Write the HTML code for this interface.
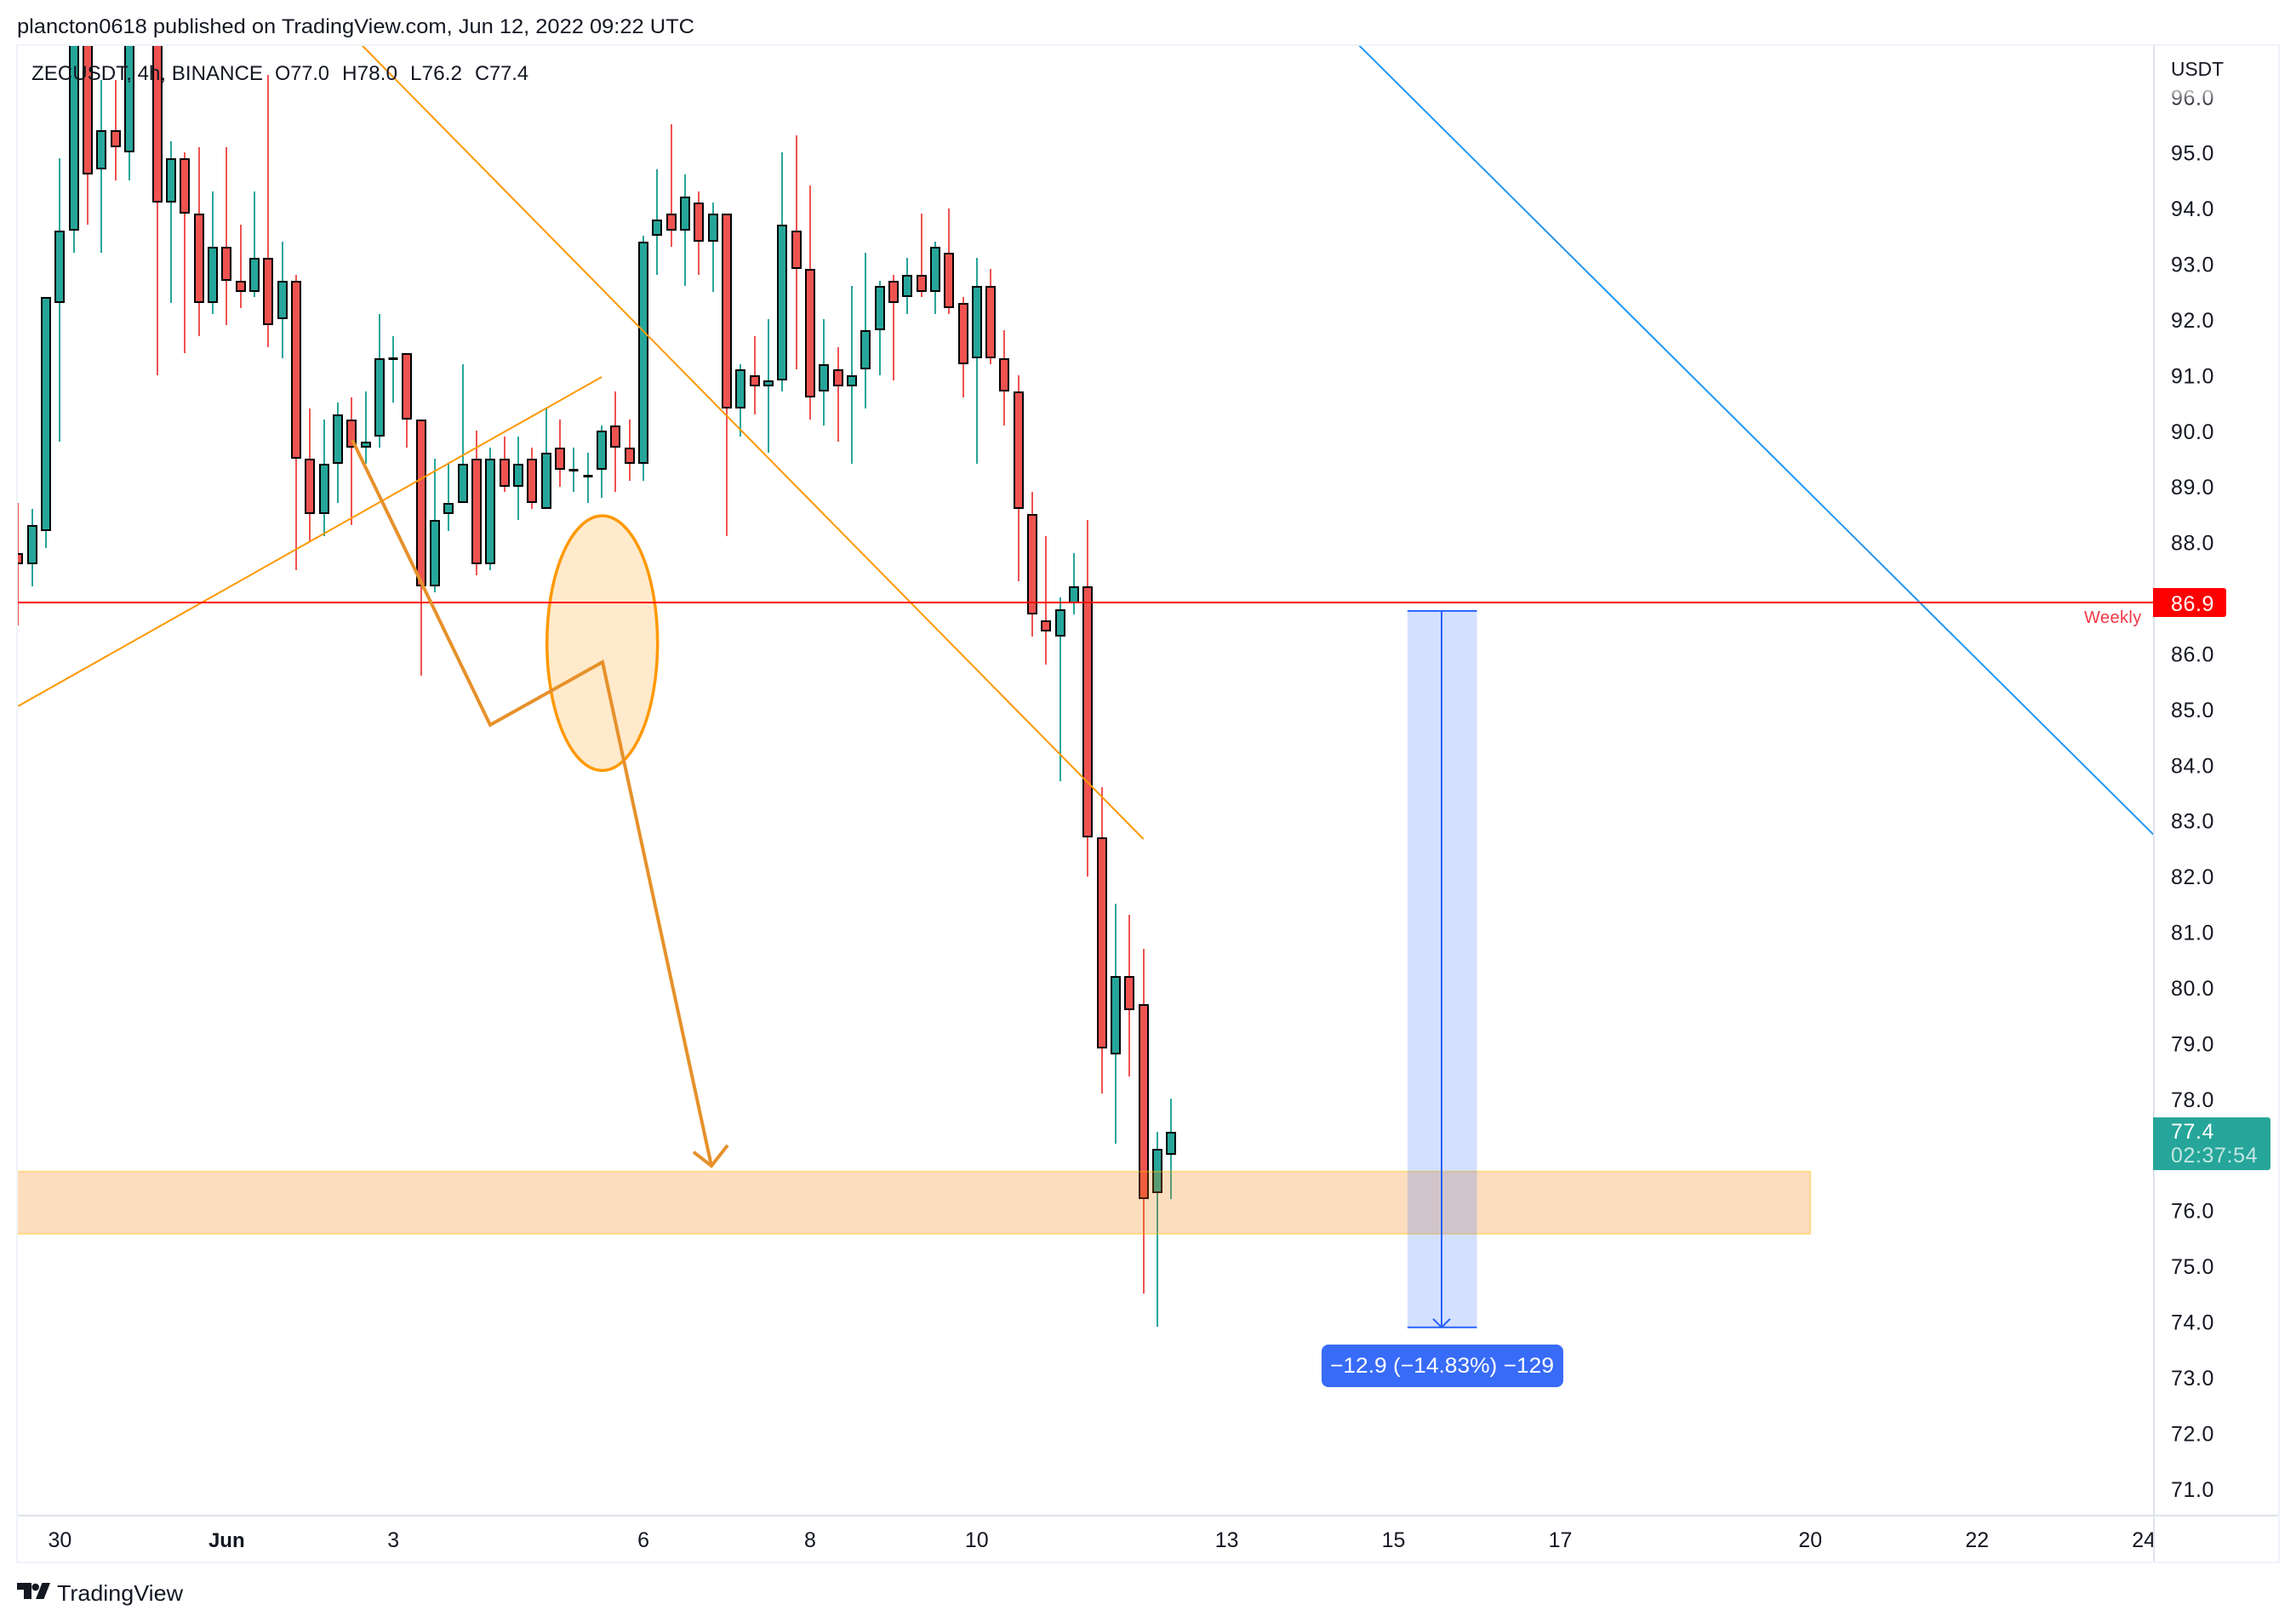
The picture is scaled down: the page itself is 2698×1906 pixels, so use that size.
<!DOCTYPE html>
<html lang="en">
<head>
<meta charset="utf-8">
<title>ZECUSDT 4h chart</title>
<style>
html,body{margin:0;padding:0;background:#fff;width:2698px;height:1906px;overflow:hidden}
svg{display:block;font-family:"Liberation Sans",sans-serif}
</style>
</head>
<body>
<svg id="chart" xmlns="http://www.w3.org/2000/svg" width="2698" height="1906" viewBox="0 0 2698 1906">
  <defs>
    <clipPath id="pane-clip"><rect x="21" y="54" width="2509" height="1726"/></clipPath>
    <clipPath id="time-clip"><rect x="21" y="1782" width="2509" height="53"/></clipPath>
    <linearGradient id="fade-tick" gradientUnits="userSpaceOnUse" x1="0" y1="104" x2="0" y2="124">
      <stop offset="0" stop-color="#131722" stop-opacity="0.25"/>
      <stop offset="1" stop-color="#131722" stop-opacity="0.95"/>
    </linearGradient>
  </defs>
  <rect x="0" y="0" width="2698" height="1906" fill="#ffffff"/>
  <text x="20" y="39" font-size="24" fill="#131722" textLength="796" lengthAdjust="spacingAndGlyphs">plancton0618 published on TradingView.com, Jun 12, 2022 09:22 UTC</text>

  <g id="pane" clip-path="url(#pane-clip)"></g>
  <g id="price-axis"></g>
  <g id="time-axis" clip-path="url(#time-clip)"></g>

  <g>
    <line x1="19" y1="53" x2="2679" y2="53" stroke="#f0f3fa" stroke-width="2"/>
    <line x1="19" y1="1836" x2="2679" y2="1836" stroke="#f0f3fa" stroke-width="2"/>
    <line x1="20" y1="53" x2="20" y2="1836" stroke="#f0f3fa" stroke-width="2"/>
    <line x1="2678" y1="53" x2="2678" y2="1836" stroke="#f0f3fa" stroke-width="2"/>
    <line x1="2531" y1="54" x2="2531" y2="1835" stroke="#e0e3eb" stroke-width="2"/>
    <line x1="21" y1="1781" x2="2677" y2="1781" stroke="#e0e3eb" stroke-width="2"/>
  </g>

  <g id="labels"></g>

  <g font-size="24" fill="#131722">
    <text x="37" y="94" textLength="272" lengthAdjust="spacingAndGlyphs">ZECUSDT, 4h, BINANCE</text>
    <text x="323" y="94" textLength="64" lengthAdjust="spacingAndGlyphs">O77.0</text>
    <text x="402" y="94" textLength="65" lengthAdjust="spacingAndGlyphs">H78.0</text>
    <text x="482" y="94" textLength="61" lengthAdjust="spacingAndGlyphs">L76.2</text>
    <text x="558" y="94" textLength="63" lengthAdjust="spacingAndGlyphs">C77.4</text>
  </g>

  <text x="2551" y="89" font-size="23" fill="#131722" textLength="62" lengthAdjust="spacingAndGlyphs">USDT</text>

  <g fill="#131722">
    <path d="M20 1860H37V1879H28V1868H20Z"/>
    <circle cx="41.7" cy="1865" r="4.3"/>
    <path d="M59 1860L51.5 1879H42L49.5 1860Z"/>
    <text x="67" y="1881" font-size="26" textLength="148" lengthAdjust="spacingAndGlyphs">TradingView</text>
  </g>
</svg>
<script>
// Candle data (4h bars, oldest first). Bars 4,5,8,9,10 run above the visible range: their off-screen ends are estimates.
const opens = [87.8,87.6,88.2,92.3,93.6,98,94.7,95.4,95.0,100,98,94.1,94.9,93.9,92.3,93.3,92.7,92.5,93.1,92.0,92.7,89.5,88.5,89.4,90.2,89.7,89.9,91.3,91.4,90.2,87.2,88.5,88.7,89.5,87.6,89.5,89.0,89.5,88.6,89.7,89.3,89.2,89.3,90.1,89.7,89.4,93.5,93.9,93.6,94.1,93.4,93.9,90.4,91.0,90.8,90.9,93.6,92.9,90.7,91.1,90.8,91.1,91.8,92.7,92.4,92.8,92.5,93.2,92.3,91.3,92.6,91.3,90.7,88.5,86.6,86.3,86.9,87.2,82.7,78.8,80.2,79.7,76.3,77.0];
const highs = [88.7,88.6,92.4,94.9,98.5,98.5,96.3,96.3,98.5,100.5,99,95.2,95.0,95.1,94.3,95.1,93.7,94.3,96.4,93.4,92.8,90.4,90.2,90.5,90.6,90.7,92.1,91.7,91.4,90.2,89.5,89.4,91.2,90.0,89.7,89.9,89.9,89.7,90.4,90.2,89.7,89.6,90.1,90.7,90.2,93.5,94.7,95.5,94.6,94.3,94.1,93.9,91.2,91.7,92.0,95.0,95.3,94.4,92.0,91.5,92.6,93.2,92.7,92.8,93.1,93.9,93.4,94.0,92.4,93.1,92.9,91.8,91.0,88.9,88.1,87.0,87.8,88.4,83.6,81.5,81.3,80.7,77.4,78.0];
const lows = [86.5,87.2,87.9,89.8,93.2,93.7,93.2,94.5,94.5,98,91.0,92.3,91.4,91.7,92.1,91.9,92.2,92.4,91.5,91.3,87.5,88.0,88.1,88.7,88.3,89.4,89.7,90.5,89.7,85.6,87.1,88.2,88.7,87.4,87.5,88.9,88.4,88.6,88.6,89.0,88.9,88.7,88.8,88.9,89.1,89.1,92.8,93.3,92.6,92.8,92.5,88.1,89.9,90.3,89.6,90.7,91.1,90.2,90.1,89.8,89.4,90.4,91.0,90.9,92.1,92.4,92.1,92.1,90.6,89.4,91.2,90.1,87.3,86.3,85.8,83.7,86.7,82.0,78.1,77.2,78.4,74.5,73.9,76.2];
const closes = [87.6,88.3,92.4,93.6,98,94.6,95.4,95.1,98,99,94.1,94.9,93.9,92.3,93.3,92.7,92.5,93.1,91.9,92.7,89.5,88.5,89.4,90.3,89.7,89.8,91.3,91.3,90.2,87.2,88.4,88.7,89.4,87.6,89.5,89.0,89.4,88.7,89.6,89.3,89.3,89.2,90.0,89.7,89.4,93.4,93.8,93.6,94.2,93.4,93.9,90.4,91.1,90.8,90.9,93.7,92.9,90.6,91.2,90.8,91.0,91.8,92.6,92.3,92.8,92.5,93.3,92.2,91.2,92.6,91.3,90.7,88.6,86.7,86.4,86.8,87.2,82.7,78.9,80.2,79.6,76.2,77.1,77.4];

// Axis ticks
const priceTicks = [96,95,94,93,92,91,90,89,88,87,86,85,84,83,82,81,80,79,78,77,76,75,74,73,72,71];
const hiddenPriceTicks = [87,77];
const timeTickLabels = ['30','Jun','3','6','8','10','13','15','17','20','22','24'];
const timeTickBars = [3,15,27,45,57,69,87,99,111,129,141,153];

// Drawing anchors in chart units (bar number, price)
const weeklyLevel = [86.9];
const risingTrendBars = [0,42];
const risingTrendPrices = [85.04,90.95];
const fallingTrendBars = [24.78,81];
const fallingTrendPrices = [96.9,82.65];
const blueTrendBars = [96.5,153.7];
const blueTrendPrices = [96.91,82.73];
const zoneBars = [-2,129];
const zonePrices = [76.68,75.56];
const measureBars = [100,105];
const measurePrices = [86.75,73.88];
const ellipseBars = [42.04,3.98];
const ellipsePrices = [86.17,2.287];
const pathBars = [24.05,33.97,42.06,49.9];
const pathPrices = [89.82,84.7,85.83,76.78];
const arrowHeadBars = [48.61,49.9,51.06];
const arrowHeadPrices = [77.03,76.78,77.15];

// Axis functions
function xScale(bar){ return 21.4 + 16.325 * bar; }
function yScale(price){ return 708 + (86.9 - price) * 65.42; }

const NS = 'http://www.w3.org/2000/svg';
const pane = document.getElementById('pane');
const priceAxis = document.getElementById('price-axis');
const timeAxis = document.getElementById('time-axis');
const labels = document.getElementById('labels');
function mk(tag, parent, props){
  const el = document.createElementNS(NS, tag);
  for (const k in props) el.setAttribute(k, props[k]);
  parent.appendChild(el);
  return el;
}
function poly(bars, prices){
  return bars.map(function(b, i){ return xScale(b).toFixed(1) + ',' + yScale(prices[i]).toFixed(1); }).join(' ');
}

// Candles
const GREEN = '#26a69a', RED = '#ef5350';
closes.forEach(function(close, i){
  const open = opens[i], high = highs[i], low = lows[i];
  const up = close >= open;
  const color = up ? GREEN : RED;
  const cx = Math.round(xScale(i));
  const g = mk('g', pane, {});
  
  
  const hy = Math.round(yScale(high)) + 1, ly = Math.round(yScale(low)) + 1;
  const wick = mk('rect', g, {x: cx - 1, y: hy, width: 2, height: Math.max(1, ly - hy), fill: color});
  
  
  const top = Math.round(yScale(Math.max(open, close))) + 1;
  const bot = Math.round(yScale(Math.min(open, close))) + 1;
  const h = bot - top;
  let body;
  if (h < 3) {
    body = mk('rect', g, {x: cx - 5.5, y: top - 1, width: 11, height: 3, fill: '#000'});
  } else {
    body = mk('rect', g, {x: cx - 5, y: top + 1, width: 10, height: h - 2, fill: color, stroke: '#000', 'stroke-width': 2});
  }
  
  
});

// Ellipse highlight
const ellipse = mk('ellipse', pane, {
  cx: xScale(ellipseBars[0]), cy: yScale(ellipsePrices[0]),
  rx: ellipseBars[1] * 16.325, ry: ellipsePrices[1] * 65.42,
  fill: 'rgba(255,152,0,0.2)', stroke: '#ff9800', 'stroke-width': 3.5
});



// Support zone
const zone = mk('rect', pane, {
  x: xScale(zoneBars[0]), y: yScale(zonePrices[0]),
  width: xScale(zoneBars[1]) - xScale(zoneBars[0]),
  height: yScale(zonePrices[1]) - yScale(zonePrices[0]),
  fill: 'rgba(245,124,0,0.25)', stroke: 'rgba(255,193,7,0.4)', 'stroke-width': 2
});



// Measure tool
const mx0 = xScale(measureBars[0]), mx1 = xScale(measureBars[1]);
const my0 = yScale(measurePrices[0]), my1 = yScale(measurePrices[1]);
const mxc = Math.round((mx0 + mx1) / 2) - 1;
const measure = mk('rect', pane, {x: mx0, y: my0, width: mx1 - mx0, height: my1 - my0, fill: 'rgba(41,98,255,0.2)'});


const mTop = mk('line', pane, {x1: mx0, y1: my0, x2: mx1, y2: my0, stroke: '#2962ff', 'stroke-width': 2});


const mBot = mk('line', pane, {x1: mx0, y1: my1, x2: mx1, y2: my1, stroke: '#2962ff', 'stroke-width': 2});


const mLine = mk('line', pane, {x1: mxc, y1: my0, x2: mxc, y2: my1, stroke: '#2962ff', 'stroke-width': 2});


const mHead = mk('polyline', pane, {points: (mxc - 10) + ',' + (my1 - 10) + ' ' + mxc + ',' + my1 + ' ' + (mxc + 10) + ',' + (my1 - 10), fill: 'none', stroke: '#2962ff', 'stroke-width': 2});



// Trend lines
const rising = mk('polyline', pane, {points: poly(risingTrendBars, risingTrendPrices), fill: 'none', stroke: '#ff9800', 'stroke-width': 2});


const falling = mk('polyline', pane, {points: poly(fallingTrendBars, fallingTrendPrices), fill: 'none', stroke: '#ff9800', 'stroke-width': 2});


const blue = mk('polyline', pane, {points: poly(blueTrendBars, blueTrendPrices), fill: 'none', stroke: '#2196f3', 'stroke-width': 2});



// Weekly level
const levelY = Math.round(yScale(weeklyLevel[0]));
const weekly = mk('line', pane, {x1: 21, y1: levelY, x2: 2531, y2: levelY, stroke: '#ff0000', 'stroke-width': 2});



// Projection path and arrow head
const pathLine = mk('polyline', pane, {points: poly(pathBars, pathPrices), fill: 'none', stroke: '#e6912b', 'stroke-width': 4, 'stroke-linejoin': 'miter'});


const pathHead = mk('polyline', pane, {points: poly(arrowHeadBars, arrowHeadPrices), fill: 'none', stroke: '#e6912b', 'stroke-width': 4});



// Price axis ticks
priceTicks.forEach(function(p){
  if (hiddenPriceTicks.indexOf(p) >= 0) return;
  const t = mk('text', priceAxis, {x: 2551, y: yScale(p) + 10.6, 'font-size': 25, 'letter-spacing': 0.6, fill: p === 96 ? 'url(#fade-tick)' : '#131722'});
  
  
  t.textContent = p.toFixed(1);
});

// Time axis ticks
timeTickLabels.forEach(function(label, i){
  const bold = label === 'Jun';
  const t = mk('text', timeAxis, {x: xScale(timeTickBars[i]), y: 1818, 'font-size': bold ? 24 : 25, 'font-weight': bold ? 700 : 400, 'text-anchor': 'middle', fill: '#131722'});
  
  
  t.textContent = label;
});

// Weekly price tag
const tag = mk('path', labels, {d: 'M2530 ' + (levelY - 17) + 'H2613a3 3 0 0 1 3 3V' + (levelY + 14) + 'a3 3 0 0 1 -3 3H2530Z', fill: '#ff0000'});


const tagText = mk('text', labels, {x: 2551, y: levelY + 10, 'font-size': 25, 'letter-spacing': 0.6, fill: '#ffffff'});


tagText.textContent = weeklyLevel[0].toFixed(1);
const weeklyText = mk('text', labels, {x: 2449, y: levelY + 24, 'font-size': 20, 'letter-spacing': 0.4, fill: '#f23645'});


weeklyText.textContent = 'Weekly';

// Last price tag
const lastClose = closes[closes.length - 1];
const lastY = Math.round(yScale(lastClose));
const lastBox = mk('path', labels, {d: 'M2530 ' + (lastY - 16) + 'H2665a3 3 0 0 1 3 3V' + (lastY + 43) + 'a3 3 0 0 1 -3 3H2530Z', fill: '#26a69a'});


const lastText = mk('text', labels, {x: 2551, y: lastY + 9, 'font-size': 25, 'letter-spacing': 0.6, fill: '#ffffff'});


lastText.textContent = lastClose.toFixed(1);
const countdown = mk('text', labels, {x: 2551, y: lastY + 37, 'font-size': 25, 'letter-spacing': 0.6, fill: 'rgba(255,255,255,0.72)'});


countdown.textContent = '02:37:54';

// Measure label
const mBoxY = Math.round(my1) + 20;
const mBox = mk('rect', labels, {x: 1553, y: mBoxY, width: 284, height: 50, rx: 8, fill: '#386bf7'});


const mText = mk('text', labels, {x: 1563, y: mBoxY + 33, 'font-size': 25, fill: '#ffffff', textLength: 263, lengthAdjust: 'spacingAndGlyphs'});


mText.textContent = '\u221212.9 (\u221214.83%) \u2212129';
</script>
</body>
</html>
